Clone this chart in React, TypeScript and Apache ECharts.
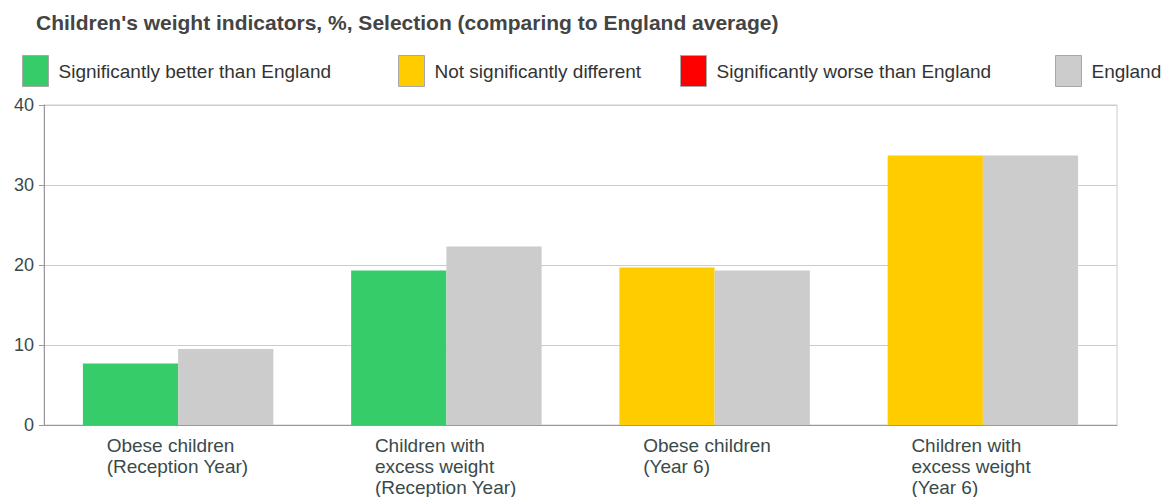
import React, { useEffect, useRef } from "react";
import * as echarts from "echarts";

const categories = [
  "Obese children\n(Reception Year)",
  "Children with\nexcess weight\n(Reception Year)",
  "Obese children\n(Year 6)",
  "Children with\nexcess weight\n(Year 6)",
];
const betterValues = [7.7, 19.3, null, null];
const similarValues = [null, null, 19.7, 33.7];
const worseValues = [null, null, null, null];
const englandValues = [9.5, 22.3, 19.3, 33.7];
const yTicks = { min: 0, max: 40, interval: 10 };

const NAMES = [
  "Significantly better than England",
  "Not significantly different",
  "Significantly worse than England",
  "England",
];
const COLORS = ["#37CC6A", "#FFCC00", "#FF0000", "#CCCCCC"];
const FONT = "Arial, 'Liberation Sans', sans-serif";

export default function App() {
  const ref = useRef<HTMLDivElement>(null);
  useEffect(() => {
    document.body.style.margin = "0";
    document.body.style.overflow = "hidden";
    const chart = echarts.init(ref.current!, null, { renderer: "svg" });
    const legendLefts = [22, 398, 680, 1055];
    const legendBase = {
      top: 55,
      icon: "rect",
      itemWidth: 26,
      itemHeight: 31,
      itemGap: 0,
      padding: 0,
      itemStyle: { borderColor: "#A8A8A8", borderWidth: 1 },
      textStyle: { fontFamily: FONT, fontSize: 19, color: "#333", padding: [0, 0, 0, 5] },
    };
    chart.setOption({
      animation: false,
      title: {
        text: "Children's weight indicators, %, Selection (comparing to England average)",
        left: 31,
        top: 7,
        textStyle: {
          fontFamily: FONT,
          fontSize: 21,
          fontWeight: "bold",
          color: "#444",
        },
      },
      legend: NAMES.map((n, i) => ({ ...legendBase, left: legendLefts[i], data: [n] })),
      grid: { left: 44, right: 48, top: 105, bottom: 71, show: true, borderColor: "#CCCCCC", borderWidth: 1 },
      xAxis: {
        type: "category",
        data: categories,
        axisTick: { show: false },
        axisLine: { lineStyle: { color: "#999", width: 1 } },
        axisLabel: {
          margin: 10,
          formatter: (v: string) => `{a|${v}}`,
          rich: {
            a: {
              width: 143,
              align: "left",
              fontFamily: FONT,
              fontSize: 19,
              lineHeight: 21,
              color: "#3A4A4A",
            },
          },
        },
      },
      yAxis: {
        type: "value",
        min: yTicks.min,
        max: yTicks.max,
        interval: yTicks.interval,
        axisLine: { show: true, lineStyle: { color: "#999", width: 1 } },
        axisTick: { show: true, length: 5, lineStyle: { color: "#999" } },
        splitLine: { lineStyle: { color: "#CCCCCC", width: 1 } },
        axisLabel: {
          margin: 10,
          fontFamily: FONT,
          fontSize: 18,
          color: "#3A4A4A",
        },
      },
      series: [
        { name: NAMES[0], type: "bar", stack: "sel", data: betterValues },
        { name: NAMES[1], type: "bar", stack: "sel", data: similarValues },
        { name: NAMES[2], type: "bar", stack: "sel", data: worseValues },
        { name: NAMES[3], type: "bar", data: englandValues },
      ].map((s, i) => ({
        ...s,
        barGap: "0%",
        barCategoryGap: "29%",
        itemStyle: { color: COLORS[i] },
        emphasis: { disabled: true },
      })),
    });
    return () => chart.dispose();
  }, []);
  return <div ref={ref} style={{ width: 1165, height: 497 }} />;
}
